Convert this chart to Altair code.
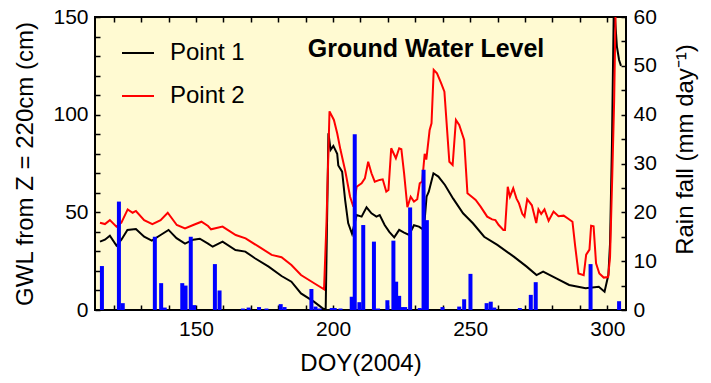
import altair as alt
import pandas as pd

# ---------------- data ----------------
doy_p1 = [115, 116.8, 118.6, 121, 122.8, 125, 128.1, 131.1, 133.9, 137.1, 140, 142.9, 146, 149, 151.4,
          154.4, 156.1, 159.7, 164.4, 168, 171.5, 176.5, 181.2, 184.8, 188.3, 193, 196.1, 197.3, 198.3, 199.1,
          200.1, 201.5, 201.9, 203.3, 204.4, 205.5, 206.9, 208.6, 210.4, 212.2, 214, 215.8, 217, 218.8, 220.5,
          222.3, 224.1, 225.9, 227.7, 229.5, 231.3, 233.1, 234.1, 234.9, 236.6, 238.4, 240.8, 243.8, 247.4, 251,
          255.1, 259.9, 265.9, 270.6, 274.2, 276.6, 281.4, 286.1, 292.1, 296.9, 299, 300.4, 301, 301.7, 302.4,
          303.5, 304.3, 305]
gwl_p1 = [35, 36, 38, 33, 36, 41, 41.5, 37.5, 35.5, 38.4, 41, 36.8, 34, 36, 36.5,
          34, 32.4, 35, 30.7, 29.9, 26.5, 22.2, 17.4, 14.5, 8.5, 4.3, 1, 0, 90.5, 82,
          84, 80, 74, 70.8, 56.3, 44.5, 39, 48.6, 47.8, 52.6, 49.5, 47.8, 48.6, 43.5, 40,
          37.2, 41, 39.6, 38.4, 43.4, 42.7, 41, 58, 60.6, 70, 68.3, 64, 57, 49.5, 44.4,
          37.5, 33.3, 27.3, 22.2, 17.9, 19.6, 16.2, 12.8, 11.1, 11.9, 9.4, 18, 34, 85, 158,
          135, 128, 125]

doy_p2 = [115, 116.8, 118.6, 121, 122.8, 125.1, 126.9, 128.1, 131.1, 134.1, 137.1, 139.7, 143, 146, 149,
          152, 154.4, 155.5, 159.7, 164.5, 168.1, 172.9, 177.6, 181.2, 184.8, 188.3, 193.1, 196.7, 197.6, 198.7,
          200.3, 201.5, 202.7, 204.5, 206.2, 207.4, 208.6, 210.4, 211.6, 212.8, 214, 215.2, 217, 218.1, 219.4,
          220.2, 221.2, 222.9, 224.1, 224.9, 225.9, 227.1, 228.3, 229.5, 230.7, 231.6, 232.5, 233.4, 234, 235.2,
          235.9, 236.7, 237.9, 239.4, 240.6, 242.4, 243.6, 244.8, 246, 247.8, 249, 250.8, 252, 253.8, 256.2,
          258, 259.2, 260.4, 262.1, 262.7, 263.7, 264.5, 265.7, 266.9, 267.8, 269, 269.8, 270.8, 272.5, 274.1,
          274.9, 275.9, 277.1, 278.6, 280.4, 282.2, 284.1, 285.9, 287.3, 288.3, 289.5, 291.4, 292.3, 293.5, 294.1,
          295, 295.9, 297.1, 298.7, 300.3, 301, 301.8, 302.5, 303, 303.6, 305]
gwl_p2 = [44.7, 44, 46, 42.7, 44.7, 51.5, 49.8, 50.7, 46, 44, 46, 49.8, 43.5, 41.8, 43.5,
          45.2, 43, 41.3, 42.7, 38.4, 36.7, 32.4, 28.2, 27, 23, 17.9, 13.7, 10.6, 45, 101.7,
          97.3, 90.5, 82, 70.8, 58, 52.9, 63.1, 64.9, 67.4, 75.9, 70, 65.7, 66.6, 66.9, 60.6,
          61.4, 82.8, 77.7, 82.8, 82.3, 70, 52.6, 58, 55.5, 56.7, 64.9, 65.7, 80, 77, 92,
          95.6, 122.9, 121.2, 116.1, 111.8, 75.9, 74.2, 97.3, 94.7, 87, 59.8, 57.7, 56.3, 52.9, 47.8,
          46.4, 46, 43.5, 41, 41, 63.1, 58, 62.3, 57, 54.6, 49.2, 47.8, 56.7, 53.6, 44.5,
          51.5, 49.2, 51.5, 45.7, 50.4, 48, 48.3, 46.6, 45.2, 32.6, 18.7, 17.8, 28.3, 30.9, 43.1,
          42.8, 23.9, 18.7, 16.6, 16.9, 27, 68, 107, 150, 165, 170]

doy_rain = [115.7, 121.9, 123.3, 135, 137.3, 138.6, 145, 146.2, 148.1, 149.3, 156.9, 158.6, 167.1, 169.2, 173,
            175.7, 180.9, 182.3, 192.1, 193.6, 195.1, 199.5, 200.6, 202.7, 206.8, 207.9, 209.6, 211, 214.9, 216.4,
            219.8, 222, 223, 224.1, 225.2, 226.3, 228.1, 231.6, 233, 234.2, 239.9, 246, 247.8, 250.1, 256,
            257.5, 258.8, 268.1, 272.1, 273.9, 293.9, 304.3]
rain_mm = [9.0, 22.2, 1.4, 15, 5.5, 0.5, 5.5, 5.0, 15, 1.0, 9.4, 4.0, 0.3, 0.5, 0.6,
           0.3, 1.2, 0.6, 4.3, 0.7, 0.3, 0.4, 0.4, 0.3, 2.7, 36, 1.6, 17.4, 14, 0.3,
           2, 14.2, 5.8, 2.9, 0.6, 0.6, 21, 0.4, 28.7, 18.4, 0.6, 0.7, 2.2, 7.4, 1.4,
           1.7, 0.5, 0.4, 3.1, 5.7, 9.4, 1.8]

series_names = ["Point 1", "Point 2"]
series_colors = ["#000000", "#FF0000"]
x_ticks = list(range(120, 301, 10))
gwl_ticks = list(range(0, 151, 10))
rain_ticks = list(range(0, 61, 5))
title_text = ["Ground Water Level"]

# ---------------- tables ----------------
gwl_df = pd.concat([
    pd.DataFrame({"doy": doy_p1, "gwl": gwl_p1, "series": series_names[0], "ord": list(range(len(doy_p1)))}),
    pd.DataFrame({"doy": doy_p2, "gwl": gwl_p2, "series": series_names[1], "ord": list(range(len(doy_p2)))}),
], ignore_index=True)
rain_df = pd.DataFrame({"doy": doy_rain, "rain": rain_mm})
title_df = pd.DataFrame({"label": title_text})

FONT = "Liberation Sans"
x_scale = alt.Scale(domain=[115, 305], nice=False, zero=False)

lines = alt.Chart(gwl_df).mark_line(strokeWidth=2, clip=True).encode(
    x=alt.X("doy:Q", scale=x_scale, title="DOY(2004)",
            axis=alt.Axis(orient="bottom", values=x_ticks,
                          labelExpr="datum.value % 50 === 0 ? datum.label : ''",
                          offset=-5, tickSize=5, labelPadding=8, titlePadding=12,
                          labelFlush=False, labelOverlap=False)),
    y=alt.Y("gwl:Q", scale=alt.Scale(domain=[0, 150], nice=False), title="GWL from Z = 220cm (cm)",
            axis=alt.Axis(orient="left", values=gwl_ticks,
                          labelExpr="datum.value % 50 === 0 ? datum.label : ''",
                          offset=-5, tickSize=5, labelPadding=7, titlePadding=15,
                          labelOverlap=False)),
    color=alt.Color("series:N", scale=alt.Scale(domain=series_names, range=series_colors),
                    legend=alt.Legend(title=None, orient="none", legendX=26, legendY=19,
                                      symbolType="stroke", symbolSize=1024, symbolStrokeWidth=2,
                                      labelFont=FONT, labelFontSize=24, labelColor="black",
                                      labelOffset=15, rowPadding=14, padding=0)),
    order=alt.Order("ord:Q"),
)

bars = alt.Chart(rain_df).mark_bar(color="#0000FF", size=4).encode(
    x=alt.X("doy:Q", scale=x_scale,
            axis=alt.Axis(orient="top", values=x_ticks, labels=False, title=None,
                          offset=-5, tickSize=5)),
    y=alt.Y("rain:Q", scale=alt.Scale(domain=[0, 60], nice=False), title="Rain fall (mm day\u207b\u00b9)",
            axis=alt.Axis(orient="right", values=rain_ticks,
                          labelExpr="datum.value % 10 === 0 ? datum.label : ''",
                          offset=-5, tickSize=5, labelPadding=7, titlePadding=17,
                          titleAngle=270, titleBaseline="top", titleY=132,
                          labelOverlap=False)),
)

title_layer = alt.Chart(title_df).mark_text(
    font=FONT, fontSize=25, fontWeight="bold", align="center", baseline="alphabetic", color="black"
).encode(x=alt.value(331), y=alt.value(40), text="label:N")

chart = alt.layer(lines, bars, title_layer).resolve_scale(
    y="independent"
).resolve_axis(
    x="independent"
).properties(
    width=531, height=293,
    padding={"left": 95, "top": 17, "right": 85, "bottom": 73},
    autosize=alt.AutoSizeParams(type="none"),
).configure_view(
    fill="#FFFAD2", stroke="black", strokeWidth=2
).configure_axis(
    labelFont=FONT, titleFont=FONT, labelFontSize=21, titleFontSize=24,
    titleFontWeight="normal", labelColor="black", titleColor="black",
    tickColor="black", tickWidth=1.5, grid=False, domain=False
)

chart.save("out.html", embed_options={"renderer": "svg", "actions": False})
